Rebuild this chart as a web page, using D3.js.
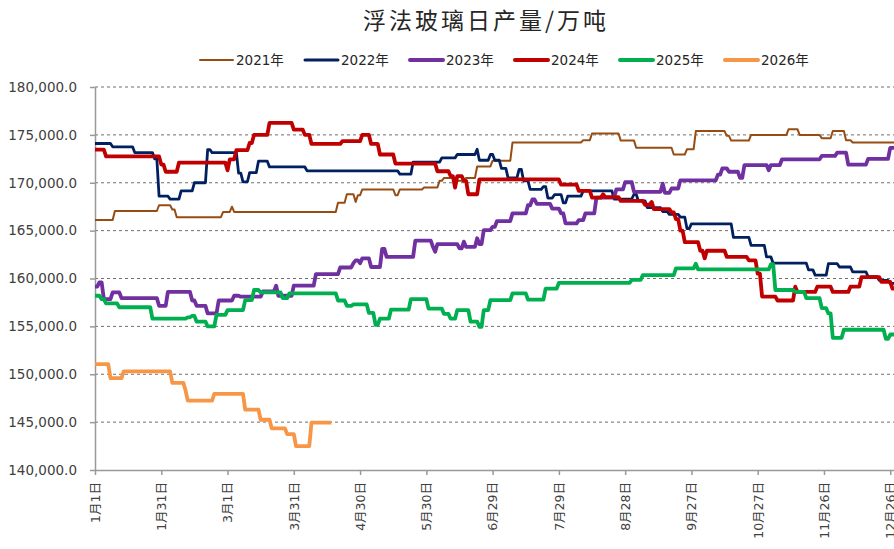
<!DOCTYPE html>
<html>
<head>
<meta charset="utf-8">
<script src="https://cdn.jsdelivr.net/npm/d3@7"></script>
<style>
  body { margin: 0; background: #fff; }
  .axis path, .axis line { stroke: #999; }
  .axis text { fill: #404040; }
</style>
</head>
<body>
<div id="chart"></div>
<script>
// series: [month-day, value] at every level change (shown on a 2024 calendar axis)
var years = ["2021年", "2022年", "2023年", "2024年", "2025年", "2026年"];

var s2021 = [["1-1",166100],["1-10",167050],["1-30",167650],["2-5",167200],["2-7",166400],["2-28",166950],
  ["3-3",167500],["3-4",166950],["4-20",167900],["4-24",168800],["4-28",168000],["4-29",168700],["5-1",169300],
  ["5-16",168700],["5-18",169300],["5-29",169500],["6-5",170200],["6-7",170500],["6-12",170200],["6-17",170500],
  ["6-22",171700],["6-29",172300],["7-8",174200],["8-9",174450],["8-13",175150],["8-26",174400],["9-2",173650],
  ["9-19",172950],["9-25",173500],["9-29",175400],["10-13",174900],["10-15",174400],["10-24",175000],
  ["11-10",175600],["11-15",175000],["11-25",174650],["11-30",175400],["12-6",174450],["12-9",174200],["12-31",174200]];

var s2022 = [["1-1",174100],["1-9",173750],["1-19",173150],["1-28",172500],["1-30",168600],["2-4",168300],
  ["2-9",169150],["2-15",170000],["2-21",173450],["2-23",173150],["3-6",171000],["3-8",170100],["3-11",171050],
  ["3-15",172250],["3-20",171650],["4-6",171250],["5-18",170900],["5-24",172150],["6-6",172600],["6-13",172950],
  ["6-22",173500],["6-23",172350],["6-28",172950],["6-30",172350],["7-3",171500],["7-6",170500],["7-11",171400],
  ["7-13",170200],["7-16",169300],["7-22",169600],["7-24",168400],["7-27",168750],["7-31",167900],["8-2",168600],
  ["8-9",169150],["8-23",168300],["9-1",168800],["9-3",168100],["9-7",167400],["9-14",167000],["9-17",166700],
  ["9-22",166400],["9-25",165200],["9-27",165700],["10-16",164300],["10-24",163450],["10-31",162250],
  ["11-3",161600],["11-19",160900],["11-22",160350],["11-28",161550],["12-3",161200],["12-9",160700],
  ["12-16",160200],["12-21",159800],["12-26",159500],["12-31",159500]];

var s2023 = [["1-1",159150],["1-3",159600],["1-5",157850],["1-9",158550],["1-13",157950],["1-30",157150],
  ["2-3",158600],["2-14",157700],["2-16",157150],["2-21",156350],["2-26",157700],["3-4",158200],["3-7",158100],
  ["3-17",158650],["3-23",159250],["3-24",158200],["3-31",159250],["4-10",160450],["4-21",161150],["4-27",161600],
  ["4-28",161900],["4-30",161600],["5-1",162100],["5-5",161200],["5-10",163100],["5-12",162250],["5-25",163950],
  ["6-2",163300],["6-3",162800],["6-4",163600],["6-14",163150],["6-16",163850],["6-17",163300],["6-22",164200],
  ["6-23",163600],["6-25",165050],["6-29",165400],["7-1",166000],["7-8",166800],["7-15",167650],["7-17",168250],
  ["7-19",167800],["7-26",167300],["7-30",166800],["8-1",165750],["8-7",166100],["8-10",166800],["8-15",168450],
  ["8-24",169300],["8-28",170050],["9-1",169050],["9-14",169900],["9-15",168950],["9-18",169400],["9-22",170250],
  ["10-9",170850],["10-11",171500],["10-14",171150],["10-19",170500],["10-21",171850],["11-1",171300],
  ["11-2",171850],["11-7",172450],["11-25",172800],["12-2",173150],["12-7",171900],["12-16",172500],
  ["12-26",173650],["12-31",173650]];

var s2024 = [["1-1",173450],["1-6",172750],["1-31",171900],["2-2",171150],["2-8",172100],["3-1",171300],
  ["3-2",172450],["3-5",173400],["3-11",174150],["3-13",175000],["3-20",176250],["3-31",175550],["4-5",175000],
  ["4-8",174050],["4-22",174350],["5-1",175000],["5-5",174050],["5-9",172950],["5-16",172000],["6-4",171200],
  ["6-10",170700],["6-12",169500],["6-13",170700],["6-16",170200],["6-18",168800],["6-23",170350],["7-30",169800],
  ["8-7",169150],["8-13",168450],["8-18",168800],["8-19",168500],["8-26",168100],["9-6",167700],["9-9",168000],
  ["9-10",167250],["9-18",166900],["9-20",166200],["9-22",165000],["9-24",163800],["10-1",162900],["10-3",162100],
  ["10-4",162900],["10-13",162250],["10-23",161900],["10-27",160500],["10-29",158100],["11-5",157700],
  ["11-13",159150],["11-14",158600],["11-23",159150],["11-30",158600],["12-8",159150],["12-13",160150],
  ["12-22",159650],["12-27",158950],["12-31",158950]];

var s2025 = [["1-1",158200],["1-4",157850],["1-6",157400],["1-12",157000],["1-27",155800],["2-12",155950],
  ["2-14",156100],["2-16",155500],["2-21",155000],["2-25",156200],["3-1",156700],["3-9",157750],["3-13",158800],
  ["3-16",158550],["3-26",157950],["3-29",158450],["4-20",157700],["4-24",157150],["4-27",157300],["5-4",156400],
  ["5-7",155150],["5-9",155800],["5-14",156750],["5-23",157850],["5-31",156850],["6-7",156300],["6-10",155800],
  ["6-13",156700],["6-19",155500],["6-23",154950],["6-25",156700],["6-28",157750],["7-8",158450],["7-15",157800],
  ["7-23",158950],["7-29",159550],["8-31",159850],["9-5",160350],["9-20",161050],["9-29",161550],["9-30",160950],
  ["11-2",161500],["11-4",158800],["11-13",158600],["11-18",157950],["11-25",156900],["11-28",156350],
  ["11-30",153800],["12-5",154650],["12-24",153700],["12-26",154150],["12-31",154150]];

var s2026 = [["1-1",151050],["1-8",149600],["1-14",150300],["2-5",149100],["2-11",148300],["2-12",147250],
  ["2-24",147950],["3-9",146300],["3-16",145250],["3-21",144350],["3-28",143750],["4-1",142500],["4-8",144950],
  ["4-17",144950]];

var seriesData = [s2021, s2022, s2023, s2024, s2025, s2026];

var yTicks = [140000, 145000, 150000, 155000, 160000, 165000, 170000, 175000, 180000];
var xTickDays = [0, 30, 60, 90, 120, 150, 180, 210, 240, 270, 300, 330, 360];

var colors = ["#974c13", "#002060", "#7030a0", "#c00000", "#00b050", "#f79646"];
var widths = [2, 2.8, 3.8, 3.8, 3.8, 3.8];

var W = 894, H = 549;
var margin = {left: 95, top: 87, bottom: 470};

function toDate(s){
    var p = s.split("-");
    return new Date(2024, +p[0] - 1, +p[1]);
}

// daily data: a level holds until the day before the next change
function dailyPoints(series){
    var pts = [];
    series.forEach(function(d, i){
        var dt = toDate(d[0]);
        if (i > 0 && d[1] != series[i-1][1]) {
            pts.push([d3.timeDay.offset(dt, -1), series[i-1][1]]);
        }
        pts.push([dt, d[1]]);
    });
    return pts;
}

var start = new Date(2024, 0, 1);

var svg = d3.select("#chart").append("svg")
    .attr("width", W)
    .attr("height", H)
    .style("background", "#fff");

var x = d3.scaleTime()
    .domain([start, new Date(2024, 11, 31)])
    .range([margin.left, margin.left + 365 * 2.209]);

var y = d3.scaleLinear()
    .domain([140000, 180000])
    .range([margin.bottom, margin.top]);

// title
svg.append("text")
    .attr("x", 486)
    .attr("y", 29)
    .attr("text-anchor", "middle")
    .style("font-family", "'Noto Sans CJK SC', sans-serif")
    .style("font-size", "23px")
    .style("letter-spacing", "3px")
    .style("fill", "#262626")
    .text("浮法玻璃日产量/万吨");

// legend
var legend = svg.selectAll(".legend")
    .data(years)
    .enter().append("g")
    .attr("class", "legend")
    .attr("transform", function(d, i){ return "translate(" + (200 + i * 105) + ",60)"; });

legend.append("line")
    .attr("x1", 0).attr("x2", 33)
    .attr("y1", 0).attr("y2", 0)
    .attr("stroke", function(d, i){ return colors[i]; })
    .attr("stroke-width", function(d, i){ return i == 0 ? 2 : (i == 1 ? 3 : 4); })
    .attr("stroke-linecap", "round");

legend.append("text")
    .attr("x", 36)
    .attr("dy", "0.36em")
    .style("font-family", "'DejaVu Sans', 'Noto Sans CJK SC', sans-serif")
    .style("font-size", "13.5px")
    .style("fill", "#262626")
    .text(function(d){ return d; });

// dashed gridlines
svg.append("g").selectAll("line")
    .data(yTicks.filter(function(v){ return v > 140000; }))
    .enter().append("line")
    .attr("x1", margin.left).attr("x2", W)
    .attr("y1", function(d){ return y(d); })
    .attr("y2", function(d){ return y(d); })
    .attr("stroke", "#6f6f6f")
    .attr("stroke-width", 1)
    .attr("stroke-dasharray", "3,3");

// axes
var yAxis = d3.axisLeft(y)
    .tickValues(yTicks)
    .tickFormat(d3.format(",.1f"))
    .tickSize(5)
    .tickSizeOuter(0);

svg.append("g")
    .attr("class", "axis")
    .attr("transform", "translate(" + margin.left + ",0)")
    .call(yAxis)
    .call(function(g){ g.selectAll("path, line").attr("stroke-width", 1.5); })
    .selectAll("text")
    .attr("x", -18)
    .style("font-family", "'DejaVu Sans', sans-serif")
    .style("font-size", "13.5px");

var xAxis = d3.axisBottom(x)
    .tickValues(xTickDays.map(function(d){ return d3.timeDay.offset(start, d); }))
    .tickFormat(d3.timeFormat("%-m月%-d日"))
    .tickSize(5)
    .tickSizeOuter(0);

svg.append("g")
    .attr("class", "axis")
    .attr("transform", "translate(0," + margin.bottom + ")")
    .call(xAxis)
    .call(function(g){ g.selectAll("path, line").attr("stroke-width", 1.5); })
    .selectAll("text")
    .attr("transform", "rotate(-90)")
    .attr("x", -12)
    .attr("y", 0)
    .attr("dy", "0.35em")
    .style("text-anchor", "end")
    .style("font-family", "'DejaVu Sans', 'Noto Sans CJK SC', sans-serif")
    .style("font-size", "12.5px");

// lines
var line = d3.line()
    .x(function(d){ return x(d[0]); })
    .y(function(d){ return y(d[1]); });

svg.append("g").selectAll("path")
    .data(seriesData)
    .enter().append("path")
    .attr("d", function(d){ return line(dailyPoints(d)); })
    .attr("fill", "none")
    .attr("stroke", function(d, i){ return colors[i]; })
    .attr("stroke-width", function(d, i){ return widths[i]; })
    .attr("stroke-linejoin", "round");
</script>
</body>
</html>
